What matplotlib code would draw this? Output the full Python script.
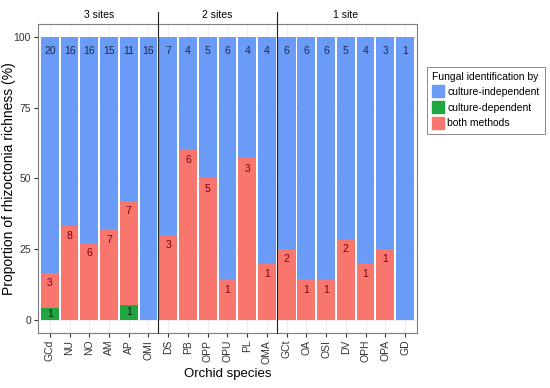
import matplotlib
matplotlib.use('Agg')
import matplotlib.pyplot as plt
from matplotlib.patches import Patch
import numpy as np

plt.rcParams['font.family'] = ['Liberation Sans', 'DejaVu Sans']

species = ['GCd', 'NU', 'NO', 'AM', 'AP', 'OMI',
           'DS', 'PB', 'OPP', 'OPU', 'PL', 'OMA',
           'GCt', 'OA', 'OSI', 'DV', 'OPH', 'OPA', 'GD']
# proportions (%)
dep_pct = [4.2, 0, 0, 0, 5.3, 0,
           0, 0, 0, 0, 0, 0,
           0, 0, 0, 0, 0, 0, 0]
both_pct = [12.5, 33.3, 27.3, 31.8, 36.8, 0,
            30.0, 60.0, 50.0, 14.3, 57.1, 20.0,
            25.0, 14.3, 14.3, 28.6, 20.0, 25.0, 0]
# counts printed on the bars
indep_n = [20, 16, 16, 15, 11, 16, 7, 4, 5, 6, 4, 4, 6, 6, 6, 5, 4, 3, 1]
both_n = [3, 8, 6, 7, 7, 0, 3, 6, 5, 1, 3, 1, 2, 1, 1, 2, 1, 1, 0]
dep_n = [1, 0, 0, 0, 1, 0, 0, 0, 0, 0, 0, 0, 0, 0, 0, 0, 0, 0, 0]
groups = ['3 sites', '2 sites', '1 site']
group_sizes = [6, 6, 7]

BLUE = '#6A9BF6'
GREEN = '#1FA640'
RED = '#F8766D'

fig = plt.figure(figsize=(5.5, 3.88), dpi=100)
ax = fig.add_axes([0.069, 0.142, 0.689, 0.796])

x = np.arange(len(species))
dep = np.array(dep_pct)
both = np.array(both_pct)
indep = 100 - dep - both
w = 0.9
ax.bar(x, dep, w, color=GREEN, zorder=2)
ax.bar(x, both, w, bottom=dep, color=RED, zorder=2)
ax.bar(x, indep, w, bottom=dep + both, color=BLUE, zorder=2)

for i in range(len(species)):
    ax.text(x[i], 95, str(indep_n[i]), ha='center', va='center', fontsize=7.5, color='#1B2B4B', zorder=3)
    if both_n[i] > 0:
        ax.text(x[i], dep[i] + both[i] - 3.6, str(both_n[i]), ha='center', va='center',
                fontsize=7.5, color='#7A0010', zorder=3)
    if dep_n[i] > 0:
        ax.text(x[i], dep[i] / 2, str(dep_n[i]), ha='center', va='center', fontsize=7.5,
                color='#102010', zorder=3)

ax.set_xlim(-0.6, len(species) - 0.4)
ax.set_ylim(-4.6, 104.6)
ax.set_xticks(x)
ax.set_xticklabels(species, rotation=90, fontsize=7.5, color='#333333')
ax.set_yticks([0, 25, 50, 75, 100])
ax.set_yticklabels(['0', '25', '50', '75', '100'], fontsize=7.5, color='#333333')
ax.tick_params(length=3, color='#333333', pad=2)
ax.grid(True, color='#EBEBEB', lw=0.6, zorder=0)
for s in ax.spines.values():
    s.set_color('#7F7F7F')
    s.set_linewidth(0.8)

ax.set_xlabel('Orchid species', fontsize=9.5, labelpad=3)
ax.set_ylabel('Proportion of rhizoctonia richness (%)', fontsize=10)
ax.yaxis.set_label_coords(-0.058, 0.5)

# site groups
start = 0
for g, n in zip(groups, group_sizes):
    ax.text(start + (n - 1) / 2, 1.029, g, transform=ax.get_xaxis_transform(),
            ha='center', va='center', fontsize=7.5)
    if start > 0:
        ax.axvline(start - 0.5, ymin=0, ymax=1.039, color='#222222', lw=0.8, clip_on=False, zorder=4)
    start += n

handles = [Patch(color=BLUE, label='culture-independent'),
           Patch(color=GREEN, label='culture-dependent'),
           Patch(color=RED, label='both methods')]
leg = fig.legend(handles=handles, title='Fungal identification by', loc='upper left',
                 bbox_to_anchor=(0.767, 0.842), fontsize=7.5, title_fontsize=7.5,
                 frameon=True, fancybox=False, edgecolor='#555555', handlelength=1.1,
                 handleheight=1.4, handletextpad=0.35, borderpad=0.5, labelspacing=0.35)
leg.get_frame().set_linewidth(0.6)
leg._legend_box.align = 'left'

fig.savefig('out.png', dpi=100)
plt.close()
